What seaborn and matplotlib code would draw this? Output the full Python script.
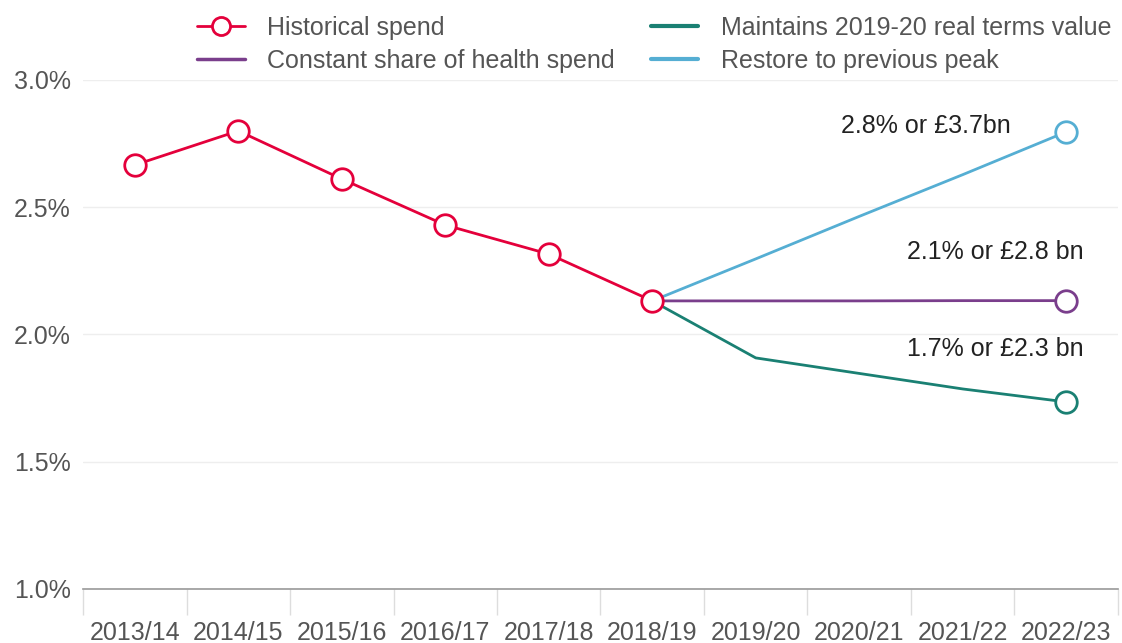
import pandas as pd
import seaborn as sns
import matplotlib.pyplot as plt
from matplotlib.ticker import FixedLocator
from matplotlib.lines import Line2D

years = ["2013/14", "2014/15", "2015/16", "2016/17", "2017/18",
         "2018/19", "2019/20", "2020/21", "2021/22", "2022/23"]

historical = [2.666, 2.80, 2.611, 2.430, 2.316, 2.132]
constant_share = [2.132, 2.132, 2.132, 2.133, 2.133]
maintains_real = [2.132, 1.908, 1.847, 1.786, 1.735]
restore_peak = [2.132, 2.297, 2.464, 2.628, 2.796]

labels = ["2.8% or £3.7bn", "2.1% or £2.8 bn", "1.7% or £2.3 bn"]

RED = "#E4003B"
PURPLE = "#7A3E8C"
TEAL = "#1A8073"
BLUE = "#55AED3"

sns.set_style("white")
plt.rcParams["font.family"] = ["Liberation Sans", "DejaVu Sans"]

hist_df = pd.DataFrame({"x": range(len(historical)), "v": historical})
proj_x = list(range(5, 10))
proj_df = pd.DataFrame({
    "x": proj_x * 3,
    "v": constant_share + maintains_real + restore_peak,
    "s": ["c"] * 5 + ["m"] * 5 + ["r"] * 5,
})

fig = plt.figure(figsize=(11.22, 6.43), dpi=100)
ax = fig.add_axes([0.074, 0.084, 0.9224, 0.7916])

# projections: line plus a hollow marker at the end point only
for key, col in [("r", BLUE), ("m", TEAL), ("c", PURPLE)]:
    sub = proj_df[proj_df["s"] == key]
    sns.lineplot(data=sub, x="x", y="v", color=col, lw=2, ax=ax, zorder=2)
    end = sub.iloc[[-1]]
    sns.scatterplot(data=end, x="x", y="v", s=240, color="white", edgecolor=col,
                    linewidth=2, ax=ax, zorder=4, clip_on=False)

sns.lineplot(data=hist_df, x="x", y="v", color=RED, lw=2, ax=ax, zorder=3)
sns.scatterplot(data=hist_df, x="x", y="v", s=240, color="white", edgecolor=RED,
                linewidth=2, ax=ax, zorder=5, clip_on=False)

ax.set_xlim(-0.5, 9.5)
ax.set_ylim(1.0, 3.0)
ax.set_xlabel("")
ax.set_ylabel("")

ax.set_yticks([1.0, 1.5, 2.0, 2.5, 3.0])
ax.set_yticklabels([f"{t:.1f}%" for t in [1.0, 1.5, 2.0, 2.5, 3.0]])
ax.set_xticks(range(len(years)))
ax.set_xticklabels(years)
ax.xaxis.set_minor_locator(FixedLocator([i - 0.5 for i in range(len(years) + 1)]))
ax.tick_params(axis="x", which="major", length=0, pad=23, labelsize=18, labelcolor="#555555")
ax.tick_params(axis="x", which="minor", bottom=True, length=19, width=1, color="#dddddd")
ax.tick_params(axis="y", length=0, pad=9, labelsize=18, labelcolor="#555555")

ax.grid(axis="y", color="#eeeeee", lw=1)
for sp in ["top", "right", "left"]:
    ax.spines[sp].set_visible(False)
ax.spines["bottom"].set_color("#999999")
ax.spines["bottom"].set_linewidth(1.2)

ax.text(8.46, restore_peak[-1] + 0.023, labels[0], ha="right", va="center", fontsize=18, color="#222222")
ax.text(9.17, constant_share[-1] + 0.191, labels[1], ha="right", va="center", fontsize=18, color="#222222")
ax.text(9.17, maintains_real[-1] + 0.208, labels[2], ha="right", va="center", fontsize=18, color="#222222")

handles = [
    Line2D([], [], color=RED, lw=2, marker="o", markersize=13, markerfacecolor="white",
           markeredgewidth=2),
    Line2D([], [], color=PURPLE, lw=2.5),
    Line2D([], [], color=TEAL, lw=3),
    Line2D([], [], color=BLUE, lw=3),
]
names = ["Historical spend", "Constant share of health spend",
         "Maintains 2019-20 real terms value", "Restore to previous peak"]
fig.legend(handles, names, ncol=2, loc="upper left", bbox_to_anchor=(0.1756, 0.975),
           frameon=False, fontsize=18, labelcolor="#555555", handlelength=1.9,
           handletextpad=0.9, columnspacing=1.45, labelspacing=0.35,
           borderaxespad=0, borderpad=0)

fig.savefig("out.png", dpi=100)
